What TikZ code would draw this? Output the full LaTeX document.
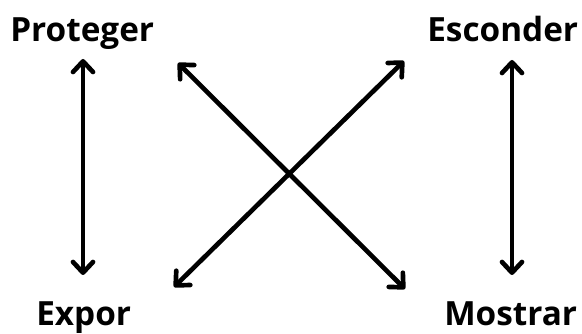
\documentclass[tikz,border=0pt]{standalone}
\usepackage{fontspec}
\setmainfont{Open Sans}
\usepackage{tikz}
\usetikzlibrary{arrows.meta}

\begin{document}
\begin{tikzpicture}[
  x=0.75pt, y=-0.75pt,
  word/.style={inner sep=0pt, anchor=base west, font=\fontsize{25}{30}\selectfont\bfseries},
  arr/.style={{Straight Barb[length=8pt, width=15pt, round]}-{Straight Barb[length=8pt, width=15pt, round]}, line width=3.5pt, line cap=round}
]
\useasboundingbox (0,0) rectangle (582,334);
\node[word] (prot) at (10,42) {Proteger};
\node[word] (esco) at (427,42) {Esconder};
\node[word] (expo) at (36,326) {Expor};
\node[word] (most) at (444,326) {Mostrar};
% arrow ends
\coordinate (lt) at (83,59);
\coordinate (lb) at (83,275);
\coordinate (rt) at (512,60);
\coordinate (rb) at (512,275);
\coordinate (dtl) at (178,63);
\coordinate (dbr) at (405,289);
\coordinate (dtr) at (404,61);
\coordinate (dbl) at (174,287);
\draw[arr] (lt) -- (lb);
\draw[arr] (rt) -- (rb);
\draw[arr] (dtl) -- (dbr);
\draw[arr] (dtr) -- (dbl);
\end{tikzpicture}
\end{document}
